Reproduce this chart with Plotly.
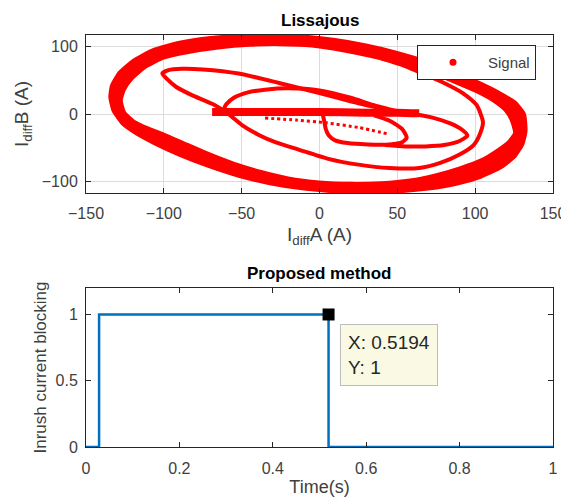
import plotly.graph_objects as go

# ---------------- Lissajous data ----------------
BAND_OUT_X = [133, 132, 126, 116, 103, 88, 70, 50, 30, 10, -10, -30, -50, -70, -90, -107, -120,
              -129, -134, -135, -133, -127, -118, -106, -90, -72, -52, -32, -10, 10, 30, 50, 70,
              88, 104, 117, 126, 131, 133]
BAND_OUT_Y = [-25, 0, 18, 32, 47, 62, 78, 92, 103, 111, 116, 117, 117, 114, 107, 96, 80,
              62, 42, 25, 5, -15, -30, -45, -62, -78, -93, -104, -112, -116, -117, -116, -112,
              -105, -94, -80, -63, -45, -25]

BAND_IN_X = [125, 123, 119, 112, 102, 89, 74, 56, 36, 15, -5, -25, -45, -65, -85, -100, -112,
             -120, -125, -127, -125, -119, -110, -100, -87, -72, -55, -38, -20, 0, 20, 40, 58,
             75, 90, 104, 114, 121, 125]
BAND_IN_Y = [-28, -10, 5, 18, 31, 44, 58, 71, 83, 93, 100, 102, 101, 97, 90, 82, 68,
             52, 36, 20, 3, -10, -20, -29, -42, -57, -72, -84, -94, -100, -102, -101, -97,
             -89, -79, -67, -53, -41, -28]

MID_X = [40, 55, 68, 80, 92, 101, 105, 103, 99, 90, 78, 64, 45, 25, 5, -13, -28, -39, -50, -58,
         -68, -82, -92, -98, -101, -97, -88, -75, -52, -26, 0, 25, 51]
MID_Y = [82, 71, 58, 46, 31, 13, -12, -30, -46, -60, -72, -80, -80, -75, -66, -53, -42, -31, -16, -1,
         14, 28, 40, 52, 60, 65, 67, 66, 60, 46, 31, 16, 3]

BAR_X = [-69, -55, -30, 0, 30, 50, 64]
BAR_Y = [3, 3, 3, 3, 2, 2, 1]

TOPLOOP_X = [-62, -60, -55, -46, -35, -20, 0, 20, 35, 50]
TOPLOOP_Y = [4, 14, 24, 32, 36, 38, 35, 24, 13, 4]

SMALL_X = [2, 3, 4, 6, 10, 18, 31, 45, 53, 56, 53, 45, 35]
SMALL_Y = [0, -10, -22, -32, -39, -43, -45, -45, -42, -35, -22, -10, -2]

TEAR_X = [45, 60, 72, 84, 92, 95, 90, 80, 68, 55, 42]
TEAR_Y = [2, 0, -5, -14, -24, -32, -40, -46, -48, -48, -46]

DOT_X = [-35, -15, 4, 25, 45]
DOT_Y = [-6, -9, -13, -20, -30]

# ---------------- Proposed method data ----------------
TIME = [0, 0.028, 0.028, 0.5194, 0.5194, 1.0]
BLOCK = [0, 0, 1, 1, 0, 0]
TIP_X = [0.5194]
TIP_Y = [1]

RED = "#FF0000"
BLUE = "#0072BD"
AX = "#262626"
TXT = "#404040"
FONT = "Liberation Sans, Arial, sans-serif"

fig = go.Figure()

# thick band (ring between outer and inner loop)
fig.add_trace(go.Scatter(x=BAND_OUT_X, y=BAND_OUT_Y, mode="lines",
                         line=dict(color=RED, width=2, shape="spline", smoothing=0.5),
                         showlegend=False, hoverinfo="skip", xaxis="x", yaxis="y"))
fig.add_trace(go.Scatter(x=BAND_IN_X, y=BAND_IN_Y, mode="lines", fill="tonext",
                         fillcolor=RED, line=dict(color=RED, width=2, shape="spline", smoothing=0.5),
                         showlegend=False, hoverinfo="skip", xaxis="x", yaxis="y"))

for cx, cy, w in [(MID_X, MID_Y, 4), (TOPLOOP_X, TOPLOOP_Y, 4), (SMALL_X, SMALL_Y, 4),
                  (TEAR_X, TEAR_Y, 4), (BAR_X, BAR_Y, 8)]:
    fig.add_trace(go.Scatter(x=cx, y=cy, mode="lines",
                             line=dict(color=RED, width=w, shape="spline", smoothing=0.6),
                             showlegend=False, hoverinfo="skip", xaxis="x", yaxis="y"))
fig.add_trace(go.Scatter(x=DOT_X, y=DOT_Y, mode="lines",
                         line=dict(color=RED, width=3, shape="spline", smoothing=0.6, dash="dot"),
                         showlegend=False, hoverinfo="skip", xaxis="x", yaxis="y"))

# legend entry
fig.add_trace(go.Scatter(x=[None], y=[None], mode="markers", name="Signal",
                         marker=dict(color=RED, size=7), xaxis="x", yaxis="y"))

# bottom plot
fig.add_trace(go.Scatter(x=TIME, y=BLOCK, mode="lines", line=dict(color=BLUE, width=2.5),
                         showlegend=False, xaxis="x2", yaxis="y2"))
fig.add_trace(go.Scatter(x=TIP_X, y=TIP_Y, mode="markers",
                         marker=dict(color="black", size=12, symbol="square"),
                         showlegend=False, xaxis="x2", yaxis="y2"))

axis_common = dict(showline=True, linecolor=AX, linewidth=1, mirror="ticks",
                   ticks="inside", ticklen=5, tickcolor=AX, zeroline=False, automargin=False,
                   tickfont=dict(family=FONT, size=16, color=TXT))

fig.update_layout(
    width=561, height=494,
    margin=dict(l=78, r=16, t=27, b=55),
    paper_bgcolor="white", plot_bgcolor="white",
    font=dict(family=FONT, color=AX),
    xaxis=dict(domain=[0, 1], anchor="y", range=[-150, 150], tickvals=[-150, -100, -50, 0, 50, 100, 150],
               showgrid=True, gridcolor="#DCDCDC", ticklabelstandoff=6,
               title=dict(text="I<sub>diff</sub>A (A)", font=dict(size=19, color=TXT), standoff=6),
               **axis_common),
    yaxis=dict(domain=[0.6165, 1], anchor="x", range=[-117, 117], tickvals=[-100, 0, 100],
               showgrid=True, gridcolor="#DCDCDC", ticklabelstandoff=4,
               title=dict(text="I<sub>diff</sub>B (A)", font=dict(size=19, color=TXT), standoff=8),
               **axis_common),
    xaxis2=dict(domain=[0, 1], anchor="y2", range=[0, 1], tickvals=[0, 0.2, 0.4, 0.6, 0.8, 1],
                ticktext=["0", "0.2", "0.4", "0.6", "0.8", "1"], showgrid=False, ticklabelstandoff=7,
                title=dict(text="Time(s)", font=dict(size=18, color=TXT), standoff=4),
                **axis_common),
    yaxis2=dict(domain=[0, 0.386], anchor="x2", range=[0, 1.2], tickvals=[0, 0.5, 1],
                ticktext=["0", "0.5", "1"], showgrid=False, ticklabelstandoff=4,
                title=dict(text="Inrush current blocking", font=dict(size=17, color=TXT), standoff=4),
                **axis_common),
    legend=dict(x=0.9636, xanchor="right", y=0.9757, yanchor="top", bgcolor="white",
                bordercolor=AX, borderwidth=1, font=dict(size=15, color=TXT),
                itemwidth=60, tracegroupgap=0),
    annotations=[
        dict(text="<b>Lissajous</b>", x=0.5, xref="paper", y=1.0, yref="paper",
             yanchor="bottom", yshift=3, showarrow=False, font=dict(size=17, color="black")),
        dict(text="<b>Proposed method</b>", x=0.5, xref="paper", y=0.386, yref="paper",
             yanchor="bottom", yshift=3, showarrow=False, font=dict(size=17, color="black")),
        dict(text="X: 0.5194<br>Y: 1", x=TIP_X[0], y=TIP_Y[0], xref="x2", yref="y2",
             xanchor="left", yanchor="top", xshift=11, yshift=-10, showarrow=False,
             align="left", bgcolor="#FAFAE4", bordercolor="#BDBDBD", borderwidth=1,
             borderpad=7, font=dict(size=19, color="#262626")),
    ],
)

fig.write_html("out.html")
